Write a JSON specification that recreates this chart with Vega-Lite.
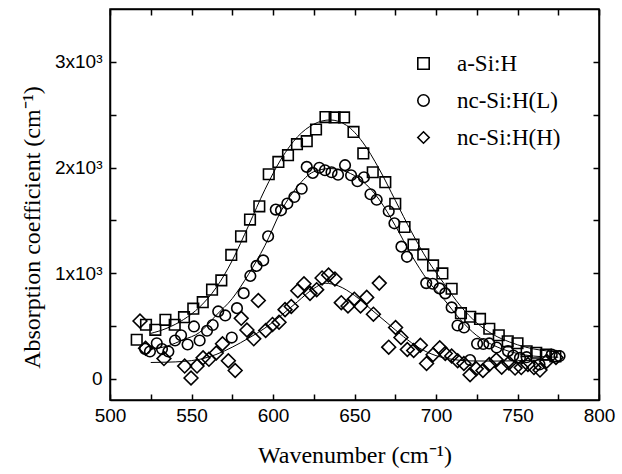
{
  "$schema": "https://vega.github.io/schema/vega-lite/v6.json",
  "width": 489,
  "height": 391,
  "autosize": {"type": "none"},
  "padding": {"left": 110, "top": 9, "right": 23, "bottom": 74},
  "background": "white",
  "config": {
    "view": {"stroke": "black", "strokeWidth": 1.5},
    "axis": {
      "grid": false,
      "domainColor": "black",
      "domainWidth": 1.5,
      "tickColor": "black",
      "tickWidth": 1.5,
      "tickSize": -6,
      "labelFlush": false,
      "labelOverlap": false,
      "labelFont": "Liberation Sans",
      "labelFontSize": 19,
      "labelColor": "black",
      "titleFont": "Liberation Serif",
      "titleFontSize": 24,
      "titleFontWeight": "normal",
      "titleColor": "black"
    },
    "legend": {
      "labelFont": "Liberation Serif",
      "labelFontSize": 23,
      "labelColor": "black"
    }
  },
  "datasets": {
    "pts": [
      {"series": "a-Si:H", "x": 516.4, "y": 370},
      {"series": "a-Si:H", "x": 522.1, "y": 512},
      {"series": "a-Si:H", "x": 527.8, "y": 464},
      {"series": "a-Si:H", "x": 534.0, "y": 559},
      {"series": "a-Si:H", "x": 539.7, "y": 512},
      {"series": "a-Si:H", "x": 545.4, "y": 584},
      {"series": "a-Si:H", "x": 551.1, "y": 664},
      {"series": "a-Si:H", "x": 556.9, "y": 726},
      {"series": "a-Si:H", "x": 562.6, "y": 844},
      {"series": "a-Si:H", "x": 568.3, "y": 932},
      {"series": "a-Si:H", "x": 574.4, "y": 1173},
      {"series": "a-Si:H", "x": 580.4, "y": 1349},
      {"series": "a-Si:H", "x": 585.9, "y": 1507},
      {"series": "a-Si:H", "x": 591.6, "y": 1633},
      {"series": "a-Si:H", "x": 597.4, "y": 1936},
      {"series": "a-Si:H", "x": 603.3, "y": 2053},
      {"series": "a-Si:H", "x": 609.2, "y": 2117},
      {"series": "a-Si:H", "x": 614.7, "y": 2221},
      {"series": "a-Si:H", "x": 620.7, "y": 2249},
      {"series": "a-Si:H", "x": 626.4, "y": 2360},
      {"series": "a-Si:H", "x": 632.2, "y": 2477},
      {"series": "a-Si:H", "x": 637.8, "y": 2474},
      {"series": "a-Si:H", "x": 643.6, "y": 2474},
      {"series": "a-Si:H", "x": 649.4, "y": 2337},
      {"series": "a-Si:H", "x": 655.4, "y": 2133},
      {"series": "a-Si:H", "x": 661.2, "y": 1955},
      {"series": "a-Si:H", "x": 668.9, "y": 1861},
      {"series": "a-Si:H", "x": 675.0, "y": 1657},
      {"series": "a-Si:H", "x": 680.7, "y": 1437},
      {"series": "a-Si:H", "x": 686.2, "y": 1270},
      {"series": "a-Si:H", "x": 692.2, "y": 1178},
      {"series": "a-Si:H", "x": 698.2, "y": 1074},
      {"series": "a-Si:H", "x": 703.9, "y": 998},
      {"series": "a-Si:H", "x": 709.6, "y": 853},
      {"series": "a-Si:H", "x": 715.3, "y": 622},
      {"series": "a-Si:H", "x": 721.0, "y": 588},
      {"series": "a-Si:H", "x": 727.0, "y": 567},
      {"series": "a-Si:H", "x": 732.7, "y": 474},
      {"series": "a-Si:H", "x": 738.5, "y": 413},
      {"series": "a-Si:H", "x": 744.0, "y": 355},
      {"series": "a-Si:H", "x": 750.0, "y": 337},
      {"series": "a-Si:H", "x": 755.6, "y": 261},
      {"series": "a-Si:H", "x": 761.5, "y": 247},
      {"series": "a-Si:H", "x": 767.4, "y": 230},
      {"series": "a-Si:H", "x": 773.2, "y": 213},
      {"series": "nc-Si:H(L)", "x": 521.5, "y": 284},
      {"series": "nc-Si:H(L)", "x": 524.5, "y": 259},
      {"series": "nc-Si:H(L)", "x": 528.7, "y": 337},
      {"series": "nc-Si:H(L)", "x": 531.9, "y": 282},
      {"series": "nc-Si:H(L)", "x": 535.8, "y": 259},
      {"series": "nc-Si:H(L)", "x": 539.9, "y": 363},
      {"series": "nc-Si:H(L)", "x": 543.6, "y": 413},
      {"series": "nc-Si:H(L)", "x": 547.6, "y": 325},
      {"series": "nc-Si:H(L)", "x": 551.5, "y": 496},
      {"series": "nc-Si:H(L)", "x": 555.0, "y": 363},
      {"series": "nc-Si:H(L)", "x": 559.5, "y": 455},
      {"series": "nc-Si:H(L)", "x": 563.0, "y": 510},
      {"series": "nc-Si:H(L)", "x": 566.4, "y": 638},
      {"series": "nc-Si:H(L)", "x": 570.7, "y": 600},
      {"series": "nc-Si:H(L)", "x": 574.7, "y": 391},
      {"series": "nc-Si:H(L)", "x": 577.9, "y": 669},
      {"series": "nc-Si:H(L)", "x": 582.0, "y": 811},
      {"series": "nc-Si:H(L)", "x": 586.1, "y": 974},
      {"series": "nc-Si:H(L)", "x": 589.9, "y": 1069},
      {"series": "nc-Si:H(L)", "x": 594.0, "y": 1121},
      {"series": "nc-Si:H(L)", "x": 597.0, "y": 1349},
      {"series": "nc-Si:H(L)", "x": 601.7, "y": 1602},
      {"series": "nc-Si:H(L)", "x": 604.9, "y": 1595},
      {"series": "nc-Si:H(L)", "x": 608.8, "y": 1659},
      {"series": "nc-Si:H(L)", "x": 613.1, "y": 1721},
      {"series": "nc-Si:H(L)", "x": 617.6, "y": 1799},
      {"series": "nc-Si:H(L)", "x": 620.7, "y": 2006},
      {"series": "nc-Si:H(L)", "x": 624.4, "y": 1949},
      {"series": "nc-Si:H(L)", "x": 628.4, "y": 1998},
      {"series": "nc-Si:H(L)", "x": 631.9, "y": 1974},
      {"series": "nc-Si:H(L)", "x": 635.9, "y": 1955},
      {"series": "nc-Si:H(L)", "x": 639.9, "y": 1932},
      {"series": "nc-Si:H(L)", "x": 644.2, "y": 2022},
      {"series": "nc-Si:H(L)", "x": 647.9, "y": 1927},
      {"series": "nc-Si:H(L)", "x": 651.8, "y": 1870},
      {"series": "nc-Si:H(L)", "x": 655.8, "y": 1908},
      {"series": "nc-Si:H(L)", "x": 659.8, "y": 1747},
      {"series": "nc-Si:H(L)", "x": 663.6, "y": 1695},
      {"series": "nc-Si:H(L)", "x": 671.0, "y": 1586},
      {"series": "nc-Si:H(L)", "x": 674.5, "y": 1472},
      {"series": "nc-Si:H(L)", "x": 678.8, "y": 1251},
      {"series": "nc-Si:H(L)", "x": 682.2, "y": 1155},
      {"series": "nc-Si:H(L)", "x": 694.0, "y": 906},
      {"series": "nc-Si:H(L)", "x": 698.0, "y": 900},
      {"series": "nc-Si:H(L)", "x": 702.1, "y": 856},
      {"series": "nc-Si:H(L)", "x": 705.7, "y": 809},
      {"series": "nc-Si:H(L)", "x": 709.6, "y": 676},
      {"series": "nc-Si:H(L)", "x": 713.2, "y": 505},
      {"series": "nc-Si:H(L)", "x": 717.2, "y": 486},
      {"series": "nc-Si:H(L)", "x": 720.9, "y": 178},
      {"series": "nc-Si:H(L)", "x": 725.2, "y": 332},
      {"series": "nc-Si:H(L)", "x": 729.0, "y": 330},
      {"series": "nc-Si:H(L)", "x": 732.7, "y": 335},
      {"series": "nc-Si:H(L)", "x": 737.2, "y": 297},
      {"series": "nc-Si:H(L)", "x": 744.2, "y": 262},
      {"series": "nc-Si:H(L)", "x": 747.4, "y": 221},
      {"series": "nc-Si:H(L)", "x": 751.5, "y": 199},
      {"series": "nc-Si:H(L)", "x": 755.6, "y": 205},
      {"series": "nc-Si:H(L)", "x": 763.5, "y": 136},
      {"series": "nc-Si:H(L)", "x": 771.0, "y": 230},
      {"series": "nc-Si:H(L)", "x": 775.8, "y": 216},
      {"series": "nc-Si:H(H)", "x": 518.4, "y": 548},
      {"series": "nc-Si:H(H)", "x": 521.8, "y": 289},
      {"series": "nc-Si:H(H)", "x": 533.1, "y": 192},
      {"series": "nc-Si:H(H)", "x": 545.8, "y": 121},
      {"series": "nc-Si:H(H)", "x": 549.7, "y": 8},
      {"series": "nc-Si:H(H)", "x": 553.4, "y": 121},
      {"series": "nc-Si:H(H)", "x": 557.1, "y": 199},
      {"series": "nc-Si:H(H)", "x": 560.7, "y": 185},
      {"series": "nc-Si:H(H)", "x": 565.2, "y": 245},
      {"series": "nc-Si:H(H)", "x": 569.0, "y": 332},
      {"series": "nc-Si:H(H)", "x": 572.6, "y": 171},
      {"series": "nc-Si:H(H)", "x": 576.8, "y": 79},
      {"series": "nc-Si:H(H)", "x": 580.5, "y": 573},
      {"series": "nc-Si:H(H)", "x": 584.0, "y": 462},
      {"series": "nc-Si:H(H)", "x": 588.2, "y": 379},
      {"series": "nc-Si:H(H)", "x": 591.0, "y": 742},
      {"series": "nc-Si:H(H)", "x": 595.5, "y": 458},
      {"series": "nc-Si:H(H)", "x": 599.7, "y": 515},
      {"series": "nc-Si:H(H)", "x": 603.7, "y": 536},
      {"series": "nc-Si:H(H)", "x": 607.4, "y": 655},
      {"series": "nc-Si:H(H)", "x": 611.2, "y": 685},
      {"series": "nc-Si:H(H)", "x": 615.2, "y": 834},
      {"series": "nc-Si:H(H)", "x": 619.0, "y": 900},
      {"series": "nc-Si:H(H)", "x": 622.7, "y": 809},
      {"series": "nc-Si:H(H)", "x": 626.8, "y": 844},
      {"series": "nc-Si:H(H)", "x": 630.1, "y": 955},
      {"series": "nc-Si:H(H)", "x": 634.1, "y": 983},
      {"series": "nc-Si:H(H)", "x": 638.0, "y": 945},
      {"series": "nc-Si:H(H)", "x": 641.9, "y": 721},
      {"series": "nc-Si:H(H)", "x": 646.0, "y": 690},
      {"series": "nc-Si:H(H)", "x": 649.9, "y": 754},
      {"series": "nc-Si:H(H)", "x": 653.7, "y": 690},
      {"series": "nc-Si:H(H)", "x": 657.5, "y": 771},
      {"series": "nc-Si:H(H)", "x": 661.6, "y": 612},
      {"series": "nc-Si:H(H)", "x": 665.2, "y": 906},
      {"series": "nc-Si:H(H)", "x": 671.0, "y": 300},
      {"series": "nc-Si:H(H)", "x": 675.2, "y": 486},
      {"series": "nc-Si:H(H)", "x": 678.5, "y": 391},
      {"series": "nc-Si:H(H)", "x": 682.4, "y": 278},
      {"series": "nc-Si:H(H)", "x": 686.3, "y": 268},
      {"series": "nc-Si:H(H)", "x": 690.4, "y": 318},
      {"series": "nc-Si:H(H)", "x": 694.2, "y": 145},
      {"series": "nc-Si:H(H)", "x": 698.2, "y": 228},
      {"series": "nc-Si:H(H)", "x": 702.3, "y": 294},
      {"series": "nc-Si:H(H)", "x": 705.7, "y": 240},
      {"series": "nc-Si:H(H)", "x": 709.6, "y": 216},
      {"series": "nc-Si:H(H)", "x": 713.3, "y": 171},
      {"series": "nc-Si:H(H)", "x": 717.1, "y": 145},
      {"series": "nc-Si:H(H)", "x": 720.9, "y": 39},
      {"series": "nc-Si:H(H)", "x": 724.7, "y": 95},
      {"series": "nc-Si:H(H)", "x": 728.8, "y": 79},
      {"series": "nc-Si:H(H)", "x": 732.7, "y": 136},
      {"series": "nc-Si:H(H)", "x": 737.0, "y": 178},
      {"series": "nc-Si:H(H)", "x": 740.3, "y": 110},
      {"series": "nc-Si:H(H)", "x": 744.7, "y": 150},
      {"series": "nc-Si:H(H)", "x": 748.5, "y": 102},
      {"series": "nc-Si:H(H)", "x": 752.3, "y": 107},
      {"series": "nc-Si:H(H)", "x": 756.4, "y": 136},
      {"series": "nc-Si:H(H)", "x": 760.1, "y": 107},
      {"series": "nc-Si:H(H)", "x": 763.8, "y": 83},
      {"series": "nc-Si:H(H)", "x": 767.9, "y": 167},
      {"series": "nc-Si:H(H)", "x": 773.6, "y": 202}
    ],
    "fit": [
      {"series": "a-Si:H", "x": 525, "y": 430},
      {"series": "a-Si:H", "x": 535, "y": 480},
      {"series": "a-Si:H", "x": 545, "y": 560},
      {"series": "a-Si:H", "x": 555, "y": 680},
      {"series": "a-Si:H", "x": 565, "y": 860},
      {"series": "a-Si:H", "x": 575, "y": 1120},
      {"series": "a-Si:H", "x": 585, "y": 1450},
      {"series": "a-Si:H", "x": 595, "y": 1790},
      {"series": "a-Si:H", "x": 605, "y": 2080},
      {"series": "a-Si:H", "x": 615, "y": 2290},
      {"series": "a-Si:H", "x": 625, "y": 2410},
      {"series": "a-Si:H", "x": 635, "y": 2450},
      {"series": "a-Si:H", "x": 645, "y": 2400},
      {"series": "a-Si:H", "x": 655, "y": 2240},
      {"series": "a-Si:H", "x": 665, "y": 1990},
      {"series": "a-Si:H", "x": 675, "y": 1690},
      {"series": "a-Si:H", "x": 685, "y": 1390},
      {"series": "a-Si:H", "x": 695, "y": 1120},
      {"series": "a-Si:H", "x": 705, "y": 900},
      {"series": "a-Si:H", "x": 715, "y": 690},
      {"series": "a-Si:H", "x": 725, "y": 530},
      {"series": "a-Si:H", "x": 735, "y": 420},
      {"series": "a-Si:H", "x": 745, "y": 350},
      {"series": "a-Si:H", "x": 755, "y": 300},
      {"series": "a-Si:H", "x": 765, "y": 270},
      {"series": "a-Si:H", "x": 775, "y": 255},
      {"series": "nc-Si:H(L)", "x": 525, "y": 280},
      {"series": "nc-Si:H(L)", "x": 535, "y": 310},
      {"series": "nc-Si:H(L)", "x": 545, "y": 370},
      {"series": "nc-Si:H(L)", "x": 555, "y": 440},
      {"series": "nc-Si:H(L)", "x": 565, "y": 600},
      {"series": "nc-Si:H(L)", "x": 575, "y": 760},
      {"series": "nc-Si:H(L)", "x": 585, "y": 990},
      {"series": "nc-Si:H(L)", "x": 595, "y": 1260},
      {"series": "nc-Si:H(L)", "x": 605, "y": 1590},
      {"series": "nc-Si:H(L)", "x": 615, "y": 1820},
      {"series": "nc-Si:H(L)", "x": 625, "y": 1960},
      {"series": "nc-Si:H(L)", "x": 635, "y": 1990},
      {"series": "nc-Si:H(L)", "x": 645, "y": 1960},
      {"series": "nc-Si:H(L)", "x": 655, "y": 1870},
      {"series": "nc-Si:H(L)", "x": 665, "y": 1700},
      {"series": "nc-Si:H(L)", "x": 675, "y": 1450},
      {"series": "nc-Si:H(L)", "x": 685, "y": 1170},
      {"series": "nc-Si:H(L)", "x": 695, "y": 930},
      {"series": "nc-Si:H(L)", "x": 705, "y": 750},
      {"series": "nc-Si:H(L)", "x": 715, "y": 560},
      {"series": "nc-Si:H(L)", "x": 725, "y": 410},
      {"series": "nc-Si:H(L)", "x": 735, "y": 320},
      {"series": "nc-Si:H(L)", "x": 745, "y": 260},
      {"series": "nc-Si:H(L)", "x": 755, "y": 225},
      {"series": "nc-Si:H(L)", "x": 765, "y": 210},
      {"series": "nc-Si:H(L)", "x": 775, "y": 205},
      {"series": "nc-Si:H(H)", "x": 525, "y": 155},
      {"series": "nc-Si:H(H)", "x": 535, "y": 158},
      {"series": "nc-Si:H(H)", "x": 545, "y": 165},
      {"series": "nc-Si:H(H)", "x": 555, "y": 185},
      {"series": "nc-Si:H(H)", "x": 565, "y": 230},
      {"series": "nc-Si:H(H)", "x": 575, "y": 300},
      {"series": "nc-Si:H(H)", "x": 585, "y": 385},
      {"series": "nc-Si:H(H)", "x": 595, "y": 480},
      {"series": "nc-Si:H(H)", "x": 605, "y": 600},
      {"series": "nc-Si:H(H)", "x": 615, "y": 730},
      {"series": "nc-Si:H(H)", "x": 625, "y": 855},
      {"series": "nc-Si:H(H)", "x": 632, "y": 905},
      {"series": "nc-Si:H(H)", "x": 640, "y": 880},
      {"series": "nc-Si:H(H)", "x": 650, "y": 790},
      {"series": "nc-Si:H(H)", "x": 660, "y": 660},
      {"series": "nc-Si:H(H)", "x": 670, "y": 530},
      {"series": "nc-Si:H(H)", "x": 680, "y": 400},
      {"series": "nc-Si:H(H)", "x": 690, "y": 290},
      {"series": "nc-Si:H(H)", "x": 700, "y": 220},
      {"series": "nc-Si:H(H)", "x": 710, "y": 185},
      {"series": "nc-Si:H(H)", "x": 720, "y": 170},
      {"series": "nc-Si:H(H)", "x": 735, "y": 168},
      {"series": "nc-Si:H(H)", "x": 750, "y": 172},
      {"series": "nc-Si:H(H)", "x": 765, "y": 178},
      {"series": "nc-Si:H(H)", "x": 772, "y": 180}
    ]
  },
  "layer": [
    {
      "data": {"name": "fit"},
      "mark": {"type": "line", "color": "black", "strokeWidth": 1, "interpolate": "monotone"},
      "encoding": {
        "x": {"field": "x", "type": "quantitative", "scale": {"domain": [500, 800], "nice": false, "zero": false},
          "axis": {"orient": "top", "labels": false, "title": null, "values": [500,525,550,575,600,625,650,675,700,725,750,775,800]}},
        "y": {"field": "y", "type": "quantitative", "scale": {"domain": [-200, 3500], "nice": false, "zero": false},
          "axis": {"orient": "right", "labels": false, "title": null, "values": [0,500,1000,1500,2000,2500,3000]}},
        "detail": {"field": "series"}
      }
    },
    {
      "data": {"name": "pts"},
      "transform": [{"filter": "datum.series != 'nc-Si:H(H)'"}],
      "mark": {"type": "point", "filled": false, "color": "black", "strokeWidth": 1.6, "opacity": 1, "size": 112},
      "encoding": {
        "x": {"field": "x", "type": "quantitative", "scale": {"domain": [500, 800], "nice": false, "zero": false},
          "axis": {"orient": "bottom", "title": "Wavenumber (cm⁻¹)", "titlePadding": 18, "labelPadding": 12,
            "values": [500,525,550,575,600,625,650,675,700,725,750,775,800],
            "labelExpr": "datum.value % 50 == 0 ? datum.label : ''"}},
        "y": {"field": "y", "type": "quantitative", "scale": {"domain": [-200, 3500], "nice": false, "zero": false},
          "axis": {"orient": "left", "title": "Absorption coefficient (cm⁻¹)", "titlePadding": 10, "labelPadding": 14,
            "titleY": 218,
            "values": [0,500,1000,1500,2000,2500,3000],
            "labelExpr": "datum.value == 0 ? '0' : (datum.value % 1000 == 0 ? (datum.value/1000) + 'x10³' : '')"}},
        "shape": {"field": "series", "type": "nominal",
          "scale": {"domain": ["a-Si:H", "nc-Si:H(L)", "nc-Si:H(H)"], "range": ["square", "circle", "diamond"]},
          "legend": {"title": null, "orient": "none", "legendX": 302, "legendY": 43,
            "labelOffset": 22, "rowPadding": 13, "symbolStrokeColor": "black", "symbolStrokeWidth": 1.6,
            "symbolFillColor": "white", "symbolSize": 130}}
      }
    },
    {
      "data": {"name": "pts"},
      "transform": [{"filter": "datum.series == 'nc-Si:H(H)'"}],
      "mark": {"type": "point", "filled": false, "color": "black", "strokeWidth": 1.6, "opacity": 1, "size": 190},
      "encoding": {
        "x": {"field": "x", "type": "quantitative", "axis": null},
        "y": {"field": "y", "type": "quantitative", "axis": null},
        "shape": {"field": "series", "type": "nominal"}
      }
    }
  ],
  "resolve": {"axis": {"x": "independent", "y": "independent"}}
}
